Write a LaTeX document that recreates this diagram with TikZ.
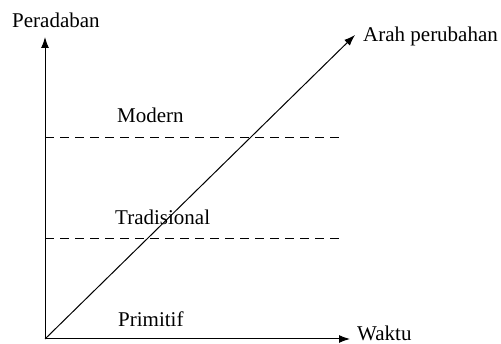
\documentclass[tikz,border=0pt]{standalone}
\usepackage{fontspec}
\setmainfont{Liberation Serif}
\usetikzlibrary{arrows.meta}

\begin{document}
\begin{tikzpicture}[x=1pt,y=-1pt,
      sumbu/.style={-{Latex[length=11pt,width=8pt]},line width=1pt,black},
      batas/.style={dash pattern=on 9pt off 6pt,line width=0.9pt},
      teks/.style={font=\fontsize{21}{24}\selectfont,inner sep=0pt,anchor=base west}]
    \useasboundingbox (0,0) rectangle (501,344);
    % titik ujung sumbu
    \coordinate (O) at (45,339);
    \coordinate (atas) at (45,37);
    \coordinate (kanan) at (350,339);
    \coordinate (arah) at (355,35);
    \coordinate (mod1) at (45,137);
    \coordinate (mod2) at (342,137);
    \coordinate (tra1) at (45,238);
    \coordinate (tra2) at (342,238);
    % label
    \node[teks] (peradaban) at (12,28) {Peradaban};
    \node[teks] (arahlbl) at (363,42) {Arah perubahan};
    \node[teks] (waktu) at (357,341) {Waktu};
    \node[teks] (modern) at (117,123) {Modern};
    \node[teks] (tradisional) at (115,225) {Tradisional};
    \node[teks] (primitif) at (118,327) {Primitif};
    % garis
    \draw[batas] (mod1) -- (mod2);
    \draw[batas] (tra1) -- (tra2);
    \draw[sumbu] (O) -- (atas);
    \draw[sumbu] (O) -- (kanan);
    \draw[sumbu] (O) -- (arah);
  \end{tikzpicture}
\end{document}
